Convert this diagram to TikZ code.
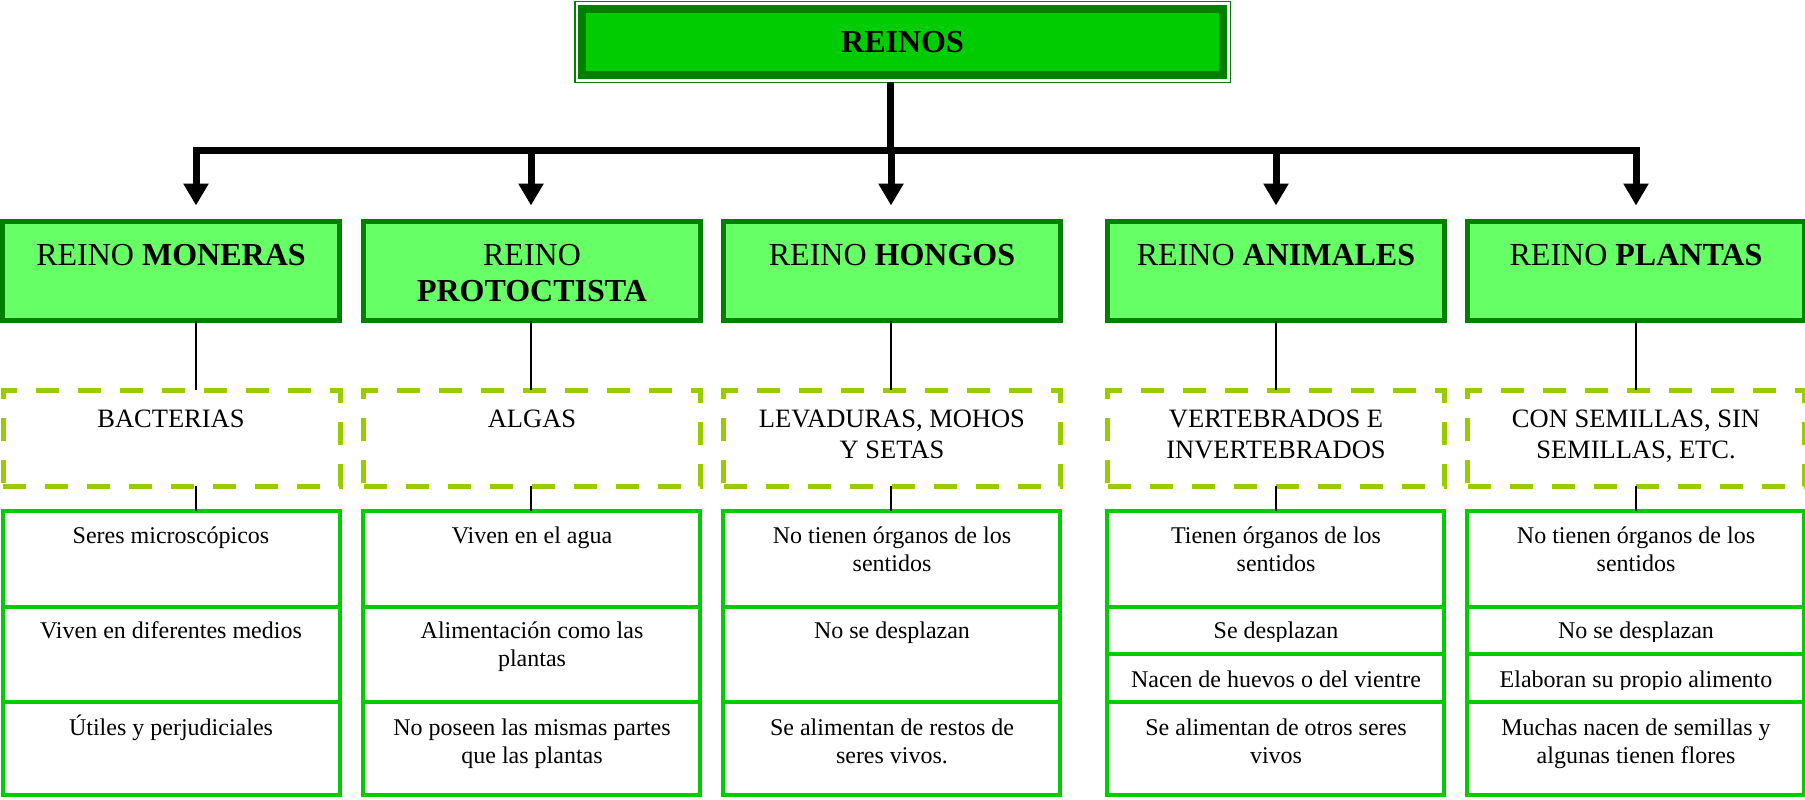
\documentclass[tikz,border=0pt]{standalone}
\usepackage{fontspec}
\setmainfont{Liberation Serif}
\usetikzlibrary{arrows.meta,calc}
\definecolor{dkgreen}{HTML}{008000}
\definecolor{brgreen}{HTML}{00CC00}
\definecolor{ltgreen}{HTML}{66FF66}
\definecolor{ygreen}{HTML}{99CC00}
\newcommand\ml[1]{\begin{tabular}[t]{@{}c@{}}#1\end{tabular}}
\begin{document}
\begin{tikzpicture}[x=1pt,y=-1pt,
  headbox/.style={draw=dkgreen,fill=ltgreen,line width=5pt,minimum width=337pt,minimum height=99pt,inner sep=0pt,outer sep=0pt,anchor=north west},
  dashbox/.style={draw=ygreen,line width=5pt,dash pattern=on 23pt off 19pt,minimum width=337pt,minimum height=96pt,inner sep=0pt,outer sep=0pt,anchor=north west},
  cellbox/.style={draw=brgreen,line width=4pt,minimum width=337pt,inner sep=0pt,outer sep=0pt,anchor=north west},
  headtext/.style={inner sep=0pt,anchor=base,font=\fontsize{32}{36}\selectfont},
  dashtext/.style={inner sep=0pt,anchor=base,font=\fontsize{26.5}{31}\selectfont},
  celltext/.style={inner sep=0pt,anchor=base,font=\fontsize{24}{28.5}\selectfont},
  bar/.style={line width=7pt,black},
  arrowbar/.style={line width=7pt,black,-{Triangle[width=24pt,length=22pt]},shorten >=16pt},
  thin/.style={line width=1.5pt,black}
]
\useasboundingbox (0,0) rectangle (1805,800);

% top box
\node[draw=dkgreen,line width=1.5pt,minimum width=655.5pt,minimum height=81pt,inner sep=0pt,outer sep=0pt] (reinosout) at (902.5,42) {};
\node[draw=dkgreen,fill=brgreen,line width=8pt,minimum width=641pt,minimum height=66pt,inner sep=0pt,outer sep=0pt,font=\fontsize{32}{36}\selectfont\bfseries] (reinos) at (902.5,42) {REINOS};

% coordinates of the bar
\coordinate (tr) at (890,150);
\coordinate (t1) at (196,150);
\coordinate (t2) at (531,150);
\coordinate (t3) at (891,150);
\coordinate (t4) at (1276,150);
\coordinate (t5) at (1636,150);

% heading boxes
\node[headbox] (k1) at (2.5,221.5) {};
\node[headbox] (k2) at (363.5,221.5) {};
\node[headbox] (k3) at (723.5,221.5) {};
\node[headbox] (k4) at (1107.5,221.5) {};
\node[headbox] (k5) at (1467.5,221.5) {};
\node[headtext] (k1t) at (171,265) {REINO \textbf{MONERAS}};
\node[headtext] (k2t) at (532,265) {\ml{REINO\\\textbf{PROTOCTISTA}}};
\node[headtext] (k3t) at (892,265) {REINO \textbf{HONGOS}};
\node[headtext] (k4t) at (1276,265) {REINO \textbf{ANIMALES}};
\node[headtext] (k5t) at (1636,265) {REINO \textbf{PLANTAS}};

% arrows
\draw[bar] (reinosout.south -| tr) -- (tr);
\draw[bar,line cap=rect] (t1) -- (t5);
\draw[arrowbar] (t1) -- (k1.north -| t1);
\draw[arrowbar] (t2) -- (k2.north -| t2);
\draw[arrowbar] (t3) -- (k3.north -| t3);
\draw[arrowbar] (t4) -- (k4.north -| t4);
\draw[arrowbar] (t5) -- (k5.north -| t5);

% dashed boxes
\node[dashbox] (d1) at (3,390) {};
\node[dashbox] (d2) at (363.5,390) {};
\node[dashbox] (d3) at (723.5,390) {};
\node[dashbox] (d4) at (1107.5,390) {};
\node[dashbox] (d5) at (1467.5,390) {};
\node[dashtext] (d1t) at (171,427) {BACTERIAS};
\node[dashtext] (d2t) at (532,427) {ALGAS};
\node[dashtext] (d3t) at (892,427) {\ml{LEVADURAS, MOHOS\\Y SETAS}};
\node[dashtext] (d4t) at (1276,427) {\ml{VERTEBRADOS E\\INVERTEBRADOS}};
\node[dashtext] (d5t) at (1636,427) {\ml{CON SEMILLAS, SIN\\SEMILLAS, ETC.}};

% cells
\node[cellbox,minimum height=96pt] (c11) at (3,511) {};
\node[cellbox,minimum height=95pt] (c12) at (3,607) {};
\node[cellbox,minimum height=93pt] (c13) at (3,702) {};
\node[cellbox,minimum height=96pt] (c21) at (363,511) {};
\node[cellbox,minimum height=95pt] (c22) at (363,607) {};
\node[cellbox,minimum height=93pt] (c23) at (363,702) {};
\node[cellbox,minimum height=96pt] (c31) at (723,511) {};
\node[cellbox,minimum height=95pt] (c32) at (723,607) {};
\node[cellbox,minimum height=93pt] (c33) at (723,702) {};
\node[cellbox,minimum height=96pt] (c41) at (1107,511) {};
\node[cellbox,minimum height=47pt] (c42) at (1107,607) {};
\node[cellbox,minimum height=48pt] (c43) at (1107,654) {};
\node[cellbox,minimum height=93pt] (c44) at (1107,702) {};
\node[cellbox,minimum height=96pt] (c51) at (1467,511) {};
\node[cellbox,minimum height=47pt] (c52) at (1467,607) {};
\node[cellbox,minimum height=48pt] (c53) at (1467,654) {};
\node[cellbox,minimum height=93pt] (c54) at (1467,702) {};

\node[celltext] (c11t) at (171,543) {Seres microscópicos};
\node[celltext] (c12t) at (171,638) {Viven en diferentes medios};
\node[celltext] (c13t) at (171,735) {Útiles y perjudiciales};
\node[celltext] (c21t) at (532,543) {Viven en el agua};
\node[celltext] (c22t) at (532,638) {\ml{Alimentación como las\\plantas}};
\node[celltext] (c23t) at (532,735) {\ml{No poseen las mismas partes\\que las plantas}};
\node[celltext] (c31t) at (892,543) {\ml{No tienen órganos de los\\sentidos}};
\node[celltext] (c32t) at (892,638) {No se desplazan};
\node[celltext] (c33t) at (892,735) {\ml{Se alimentan de restos de\\seres vivos.}};
\node[celltext] (c41t) at (1276,543) {\ml{Tienen órganos de los\\sentidos}};
\node[celltext] (c44t) at (1276,735) {\ml{Se alimentan de otros seres\\vivos}};
\node[celltext] (c51t) at (1636,543) {\ml{No tienen órganos de los\\sentidos}};
\node[celltext] (c54t) at (1636,735) {\ml{Muchas nacen de semillas y\\algunas tienen flores}};
\begin{scope}
\clip (1107,609) rectangle (1803,641);
\node[celltext] (c42t) at (1276,638) {Se desplazan};
\node[celltext] (c52t) at (1636,638) {No se desplazan};
\end{scope}
\begin{scope}
\clip (1107,656) rectangle (1803,689);
\node[celltext] (c43t) at (1276,687) {Nacen de huevos o del vientre};
\node[celltext] (c53t) at (1636,687) {Elaboran su propio alimento};
\end{scope}

% thin connectors
\draw[thin] (k1.south -| t1) -- (d1.north -| t1);
\draw[thin] (k2.south -| t2) -- (d2.north -| t2);
\draw[thin] (k3.south -| t3) -- (d3.north -| t3);
\draw[thin] (k4.south -| t4) -- (d4.north -| t4);
\draw[thin] (k5.south -| t5) -- (d5.north -| t5);
\draw[thin] (d1.south -| t1) -- (c11.north -| t1);
\draw[thin] (d2.south -| t2) -- (c21.north -| t2);
\draw[thin] (d3.south -| t3) -- (c31.north -| t3);
\draw[thin] (d4.south -| t4) -- (c41.north -| t4);
\draw[thin] (d5.south -| t5) -- (c51.north -| t5);
\end{tikzpicture}
\end{document}
